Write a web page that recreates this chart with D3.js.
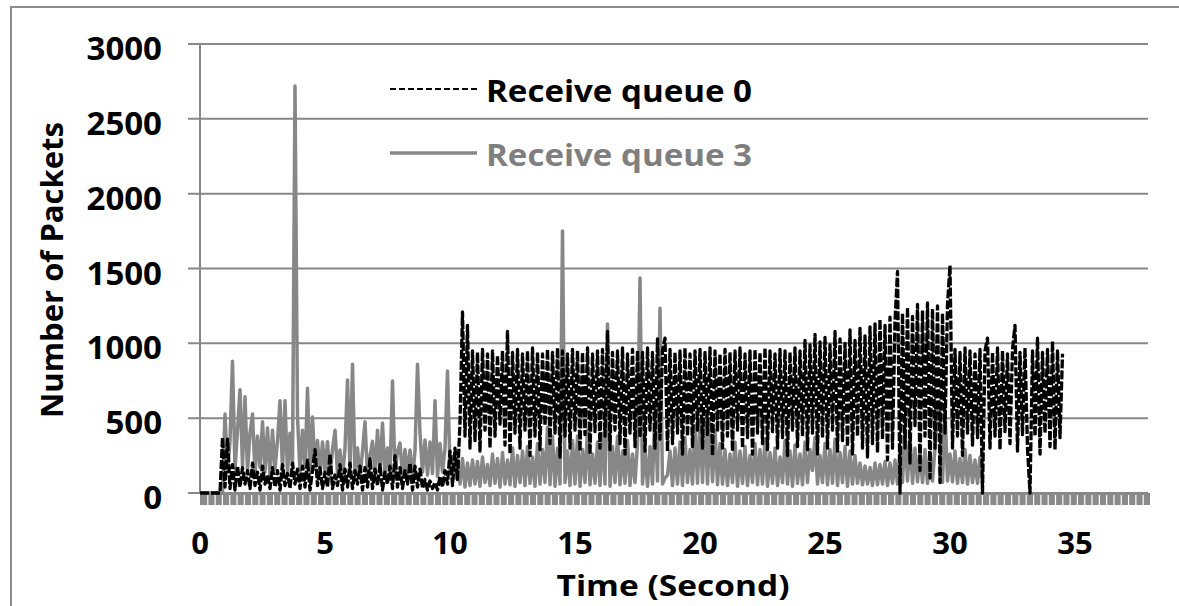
<!DOCTYPE html>
<html>
  <head>
    <script src="https://d3js.org/d3.v7.min.js"></script>
    <style>
      body { margin: 0; background: #fff; }
      text { font-family: "Open Sans", Lato, sans-serif; font-weight: bold; }
    </style>
  </head>
  <body>
    <div id="graph"></div>
    <script>

var w = 1179;
var h = 606;

// axis values
var yTicks = [0, 500, 1000, 1500, 2000, 2500, 3000];
var xTickLabels = [0, 5, 10, 15, 20, 25, 30, 35];
var seriesNames = ["Receive queue 0", "Receive queue 3"];
var sampleStep = 0.1; // seconds between samples

// Receive queue 0 (one row per second)
var queue0 = [
  0,0,0,0,0,0,0,0,0,370,
  40,360,30,190,20,180,40,170,60,150,
  30,200,50,140,20,180,60,120,30,170,
  40,150,20,190,50,130,30,200,60,160,
  30,180,40,220,20,150,290,50,170,30,
  140,40,260,30,120,50,190,20,160,40,
  200,30,150,60,180,20,170,40,230,30,
  160,50,190,20,140,60,180,30,250,40,
  170,30,150,60,200,20,180,40,160,30,
  90,20,80,30,70,20,110,40,150,60,
  280,50,300,90,470,1210,380,1120,300,950,
  350,940,280,960,420,930,300,950,380,920,
  460,950,320,1080,260,940,400,960,300,930,
  420,950,250,970,380,940,290,930,450,960,
  330,940,400,970,240,950,380,930,300,960,
  420,950,280,940,390,970,260,930,410,950,
  300,960,380,1080,290,940,420,950,330,970,
  260,930,400,960,310,950,370,940,280,970,
  420,940,300,1030,360,950,1035,280,960,330,
  940,400,950,260,970,380,930,310,950,420,
  960,300,940,390,970,250,950,410,930,300,
  960,380,940,280,950,420,970,300,930,370,
  950,260,960,400,940,330,970,290,950,410,
  930,300,960,370,950,250,940,420,970,310,
  950,380,1020,290,990,400,1060,260,1010,370,
  1040,300,990,420,1080,280,1030,350,1000,310,
  1090,260,1020,380,1100,300,1050,240,1110,330,
  1130,270,1160,360,1120,220,1175,300,1150,1480,
  0,1200,300,1240,200,1180,450,1260,150,1220,
  380,1270,100,1230,300,1250,70,1200,400,1260,
  1520,300,960,380,940,250,970,400,950,320,
  930,370,960,0,950,1035,300,940,380,970,
  290,950,410,930,330,960,1120,280,940,390,
  970,300,0,950,380,1035,260,940,400,960,
  310,1013,290,950,370,930
];

// Receive queue 3 (one row per second)
var queue3 = [
  0,0,0,0,0,0,0,0,0,0,
  528,140,350,880,160,420,690,180,643,150,
  400,528,130,380,170,476,140,434,120,420,
  160,350,617,150,617,130,400,180,2720,510,
  140,420,170,700,130,507,160,350,120,340,
  150,343,110,290,420,130,287,100,300,755,
  150,860,120,300,100,280,476,110,250,345,
  120,420,140,467,110,300,130,748,120,280,
  333,110,290,120,287,100,280,861,400,140,
  354,120,340,130,617,110,330,140,300,815,
  150,243,100,240,60,230,40,200,50,220,
  60,210,45,240,70,190,50,260,65,230,
  40,270,60,220,55,300,45,250,70,280,
  50,310,65,240,45,330,60,290,70,440,
  55,380,45,300,60,1750,70,280,50,350,
  60,380,45,290,70,420,55,260,65,340,
  50,400,60,1129,45,310,70,380,55,280,
  65,350,50,260,70,330,1436,60,290,45,
  310,60,588,80,1235,60,100,120,280,50,
  300,60,340,50,370,70,290,60,450,65,
  480,70,500,60,470,75,420,55,330,60,
  290,50,260,70,340,45,280,65,310,50,
  250,70,330,55,290,60,360,45,270,65,
  300,50,240,70,350,60,280,45,320,65,
  260,55,340,70,290,150,370,60,250,70,
  330,55,290,65,360,50,270,70,310,45,
  280,60,250,65,200,55,180,60,170,50,
  200,55,190,60,210,50,200,65,220,60,
  300,70,420,80,380,65,300,75,280,70,
  290,65,270,80,300,560,540,70,550,80,
  260,75,280,65,230,70,290,60,250,70,
  220,65,240,60
];

var gray = "#878787";

var svg = d3.select("#graph")
  .append("svg")
  .attr("width", w)
  .attr("height", h);

// outer frame (right and bottom edges fall outside the picture)
svg.append("rect")
  .attr("x", 11).attr("y", 7)
  .attr("width", 1200).attr("height", 640)
  .attr("fill", "none")
  .attr("stroke", "#8c8c8c")
  .attr("stroke-width", 2);

var xScale = d3.scaleLinear().domain([0, 38]).range([200, 1150]);
var yScale = d3.scaleLinear().domain([0, 3000]).range([493, 44]);

// gridlines
svg.selectAll("line.grid")
  .data(yTicks)
  .enter()
  .append("line")
  .attr("class", "grid")
  .attr("x1", 188).attr("x2", 1148)
  .attr("y1", function(d) { return yScale(d); })
  .attr("y2", function(d) { return yScale(d); })
  .attr("stroke", gray)
  .attr("stroke-width", 2);

// y axis line
svg.append("line")
  .attr("x1", 200).attr("x2", 200)
  .attr("y1", yScale(3000)).attr("y2", yScale(0))
  .attr("stroke", gray)
  .attr("stroke-width", 2);

// dense category tick band under the x axis
svg.append("rect")
  .attr("x", xScale(0)).attr("y", 493)
  .attr("width", xScale(38) - xScale(0)).attr("height", 12)
  .attr("fill", "#8a8a8a");
var tickAxis = d3.axisBottom(xScale)
  .tickValues(d3.range(1, 130).map(function(i) { return i * 38 / 130; }))
  .tickSize(10)
  .tickFormat("");
var tg = svg.append("g").attr("transform", "translate(0,495)").call(tickAxis);
tg.select(".domain").remove();
tg.selectAll(".tick line").attr("stroke", "#fff").attr("stroke-width", 1.2);

// y tick labels
svg.selectAll("text.ytick")
  .data(yTicks)
  .enter()
  .append("text")
  .attr("class", "ytick")
  .attr("x", 162)
  .attr("y", function(d) { return yScale(d) + 16; })
  .attr("text-anchor", "end")
  .attr("font-size", "33px")
  .attr("fill", "#000")
  .text(function(d) { return d; });

// x tick labels
svg.selectAll("text.xtick")
  .data(xTickLabels)
  .enter()
  .append("text")
  .attr("class", "xtick")
  .attr("x", function(d) { return xScale(d); })
  .attr("y", 554)
  .attr("text-anchor", "middle")
  .attr("font-size", "31px")
  .attr("fill", "#000")
  .text(function(d) { return d; });

// axis titles
svg.append("text")
  .attr("x", 673).attr("y", 596)
  .attr("text-anchor", "middle")
  .attr("font-size", "29px")
  .attr("textLength", 233)
  .attr("lengthAdjust", "spacingAndGlyphs")
  .text("Time (Second)");
svg.append("text")
  .attr("transform", "translate(63,270) rotate(-90)")
  .attr("text-anchor", "middle")
  .attr("font-size", "31px")
  .text("Number of Packets");

// series lines
var line = d3.line()
  .x(function(d, i) { return xScale(i * sampleStep); })
  .y(function(d) { return yScale(d); });

svg.append("path")
  .datum(queue3)
  .attr("d", line)
  .attr("fill", "none")
  .attr("stroke", gray)
  .attr("stroke-width", 3.5)
  .attr("stroke-linejoin", "round");

svg.append("path")
  .datum(queue0)
  .attr("d", line)
  .attr("fill", "none")
  .attr("stroke", "#000")
  .attr("stroke-width", 3.3)
  .attr("stroke-dasharray", "9,2")
  .attr("stroke-linejoin", "round");

// legend
var legend = svg.selectAll("g.legend")
  .data(seriesNames)
  .enter()
  .append("g")
  .attr("class", "legend")
  .attr("transform", function(d, i) { return "translate(0," + (89 + i * 64) + ")"; });

legend.append("line")
  .attr("x1", 390).attr("x2", 477)
  .attr("y1", 0).attr("y2", 0)
  .attr("stroke", function(d, i) { return i == 0 ? "#000" : gray; })
  .attr("stroke-width", function(d, i) { return i == 0 ? 2 : 3.5; })
  .attr("stroke-dasharray", function(d, i) { return i == 0 ? "6,3" : null; });

legend.append("text")
  .attr("x", 486)
  .attr("y", 13)
  .attr("font-size", "31px")
  .attr("textLength", 266)
  .attr("lengthAdjust", "spacingAndGlyphs")
  .attr("fill", function(d, i) { return i == 0 ? "#000" : "#7f7f7f"; })
  .text(function(d) { return d; });

    </script>
  </body>
</html>
